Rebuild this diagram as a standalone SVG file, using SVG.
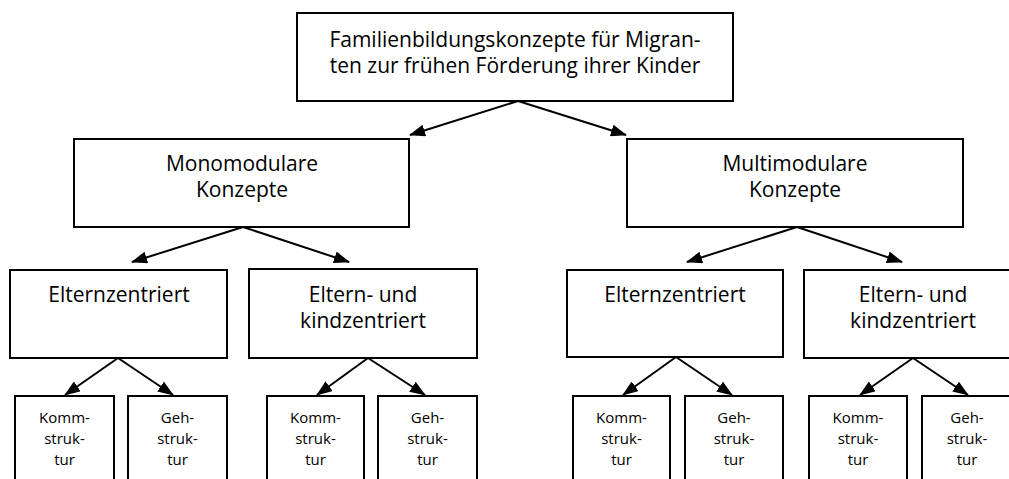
<svg xmlns="http://www.w3.org/2000/svg" width="1009" height="479" viewBox="0 0 1009 479">
<defs>
<style>
.box{fill:#fff;stroke:#000;stroke-width:2}
.t{font-family:"Open Sans","Noto Sans","DejaVu Sans",sans-serif;font-size:21px;fill:#000;text-anchor:middle}
.s{font-family:"Open Sans","Noto Sans","DejaVu Sans",sans-serif;font-size:15px;fill:#000;text-anchor:middle}
.c line{stroke:#000;stroke-width:2;marker-end:url(#ah)}
</style>
<marker id="ah" viewBox="0 0 16 12" refX="15" refY="6" markerWidth="16" markerHeight="12" markerUnits="userSpaceOnUse" orient="auto">
<path d="M0,0 L16,6 L0,12 z" fill="#000"/>
</marker>
</defs>
<rect width="1009" height="479" fill="#fff"/>
<g class="c" id="connectors">
<line x1="518" y1="101" x2="410" y2="135"/>
<line x1="518" y1="101" x2="626" y2="135"/>
<line x1="243" y1="227" x2="132" y2="262"/>
<line x1="243" y1="227" x2="349" y2="262"/>
<line x1="797" y1="227" x2="687" y2="262"/>
<line x1="797" y1="227" x2="902" y2="262"/>
<line x1="118" y1="358" x2="65" y2="395"/>
<line x1="118" y1="358" x2="173" y2="395"/>
<line x1="368" y1="358" x2="317" y2="395"/>
<line x1="368" y1="358" x2="425" y2="395"/>
<line x1="676" y1="357" x2="623" y2="395"/>
<line x1="676" y1="357" x2="732" y2="395"/>
<line x1="913" y1="358" x2="860" y2="395"/>
<line x1="913" y1="358" x2="968" y2="395"/>
</g>
<g id="root">
<rect class="box" x="297" y="13" width="436" height="88"/>
<text class="t" x="515" y="47">Familienbildungskonzepte für Migran-</text>
<text class="t" x="515" y="73">ten zur frühen Förderung ihrer Kinder</text>
</g>
<g id="mono">
<rect class="box" x="74" y="139" width="335" height="88"/>
<text class="t" x="242" y="171">Monomodulare</text>
<text class="t" x="242" y="197">Konzepte</text>
</g>
<g id="multi">
<rect class="box" x="627" y="139" width="336" height="88"/>
<text class="t" x="795" y="171">Multimodulare</text>
<text class="t" x="795" y="197">Konzepte</text>
</g>
<g id="mono-eltern">
<rect class="box" x="10" y="270" width="217" height="88"/>
<text class="t" x="119" y="302">Elternzentriert</text>
</g>
<g id="mono-elternkind">
<rect class="box" x="249" y="269" width="228" height="89"/>
<text class="t" x="363" y="302">Eltern- und</text>
<text class="t" x="363" y="328">kindzentriert</text>
</g>
<g id="multi-eltern">
<rect class="box" x="567" y="270" width="216" height="87"/>
<text class="t" x="675" y="302">Elternzentriert</text>
</g>
<g id="multi-elternkind">
<rect class="box" x="804" y="270" width="218" height="88"/>
<text class="t" x="913" y="302">Eltern- und</text>
<text class="t" x="913" y="328">kindzentriert</text>
</g>
<g id="a1">
<rect class="box" x="15" y="396" width="99" height="100"/>
<text class="s" x="64.5" y="423">Komm-</text>
<text class="s" x="64.5" y="444">struk-</text>
<text class="s" x="64.5" y="465">tur</text>
</g>
<g id="a2">
<rect class="box" x="128" y="396" width="99" height="100"/>
<text class="s" x="177.5" y="423">Geh-</text>
<text class="s" x="177.5" y="444">struk-</text>
<text class="s" x="177.5" y="465">tur</text>
</g>
<g id="b1">
<rect class="box" x="267" y="396" width="97" height="100"/>
<text class="s" x="315.5" y="423">Komm-</text>
<text class="s" x="315.5" y="444">struk-</text>
<text class="s" x="315.5" y="465">tur</text>
</g>
<g id="b2">
<rect class="box" x="378" y="396" width="99" height="100"/>
<text class="s" x="427.5" y="423">Geh-</text>
<text class="s" x="427.5" y="444">struk-</text>
<text class="s" x="427.5" y="465">tur</text>
</g>
<g id="c1">
<rect class="box" x="573" y="396" width="97" height="100"/>
<text class="s" x="621.5" y="423">Komm-</text>
<text class="s" x="621.5" y="444">struk-</text>
<text class="s" x="621.5" y="465">tur</text>
</g>
<g id="c2">
<rect class="box" x="685" y="396" width="98" height="100"/>
<text class="s" x="734" y="423">Geh-</text>
<text class="s" x="734" y="444">struk-</text>
<text class="s" x="734" y="465">tur</text>
</g>
<g id="d1">
<rect class="box" x="809" y="396" width="98" height="100"/>
<text class="s" x="858" y="423">Komm-</text>
<text class="s" x="858" y="444">struk-</text>
<text class="s" x="858" y="465">tur</text>
</g>
<g id="d2">
<rect class="box" x="922" y="396" width="99" height="100"/>
<text class="s" x="967" y="423">Geh-</text>
<text class="s" x="967" y="444">struk-</text>
<text class="s" x="967" y="465">tur</text>
</g>
</svg>
